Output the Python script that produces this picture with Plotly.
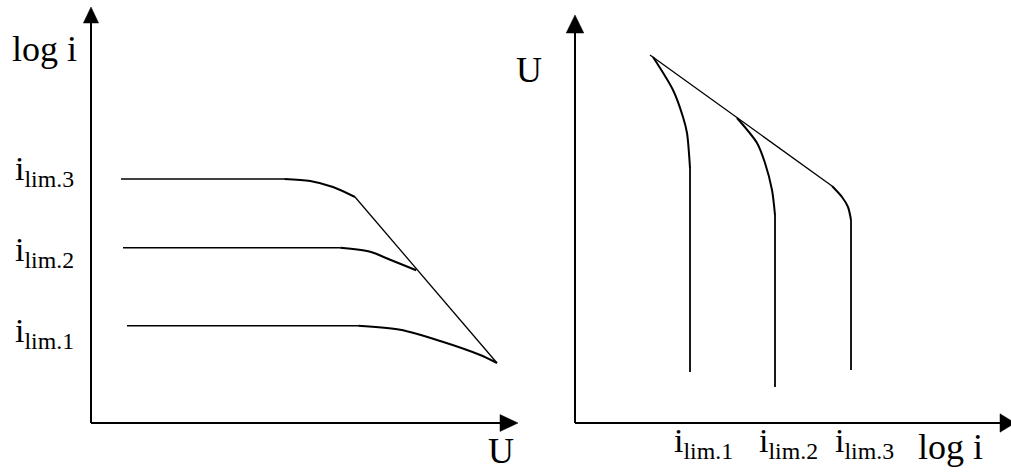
import plotly.graph_objects as go

# Left panel: log i versus U for three limiting currents
left_levels = [2.43, 4.38, 6.10]            # plateau heights (log i_lim.1..3)
left_flat_start = [0.90, 0.80, 0.75]
left_flat_end = [6.68, 6.23, 4.83]
left_bend_x = [[6.68, 7.73, 8.73, 9.73, 10.15],
               [6.23, 6.98, 7.48, 8.13],
               [4.83, 5.48, 6.05, 6.60]]
left_bend_y = [[2.43, 2.33, 2.05, 1.70, 1.50],
               [4.38, 4.28, 4.08, 3.82],
               [6.10, 6.05, 5.90, 5.65]]
left_tafel_x = [6.60, 10.15]
left_tafel_y = [5.65, 1.50]
left_labels = ["i<sub>lim.1</sub>", "i<sub>lim.2</sub>", "i<sub>lim.3</sub>"]
left_label_offset = [-0.175, -0.10, 0.20]   # label nudge from its plateau (axis units)

# Right panel: U versus log i
right_tafel_x = [1.875, 6.425]
right_tafel_y = [9.20, 5.925]
right_bend_x = [[1.95, 2.45, 2.70, 2.80, 2.875],
                [4.05, 4.55, 4.75, 4.925, 5.0],
                [6.425, 6.675, 6.825, 6.9]]
right_bend_y = [[9.15, 8.325, 7.65, 7.25, 6.375],
                [7.625, 7.0, 6.5, 5.825, 5.2],
                [5.925, 5.65, 5.40, 5.075]]
right_limit_x = [2.875, 5.0, 6.9]
right_limit_top = [6.375, 5.2, 5.075]
right_limit_bottom = [1.275, 0.9, 1.325]
right_labels = ["i<sub>lim.1</sub>", "i<sub>lim.2</sub>", "i<sub>lim.3</sub>"]

W, H = 1011, 472
BLACK = "black"
FONT = dict(family="Liberation Serif, Times New Roman, serif", size=36, color=BLACK)
SUBFONT = dict(family="Liberation Serif, Times New Roman, serif", size=34, color=BLACK)

fig = go.Figure()


def line(x, y, axes, width=1.5, shape="linear"):
    xa, ya = axes
    fig.add_trace(go.Scatter(x=x, y=y, mode="lines", xaxis=xa, yaxis=ya,
                             line=dict(color=BLACK, width=width, shape=shape,
                                       smoothing=0.8),
                             hoverinfo="skip", showlegend=False))


def arrowhead(xs, ys, axes):
    xa, ya = axes
    fig.add_trace(go.Scatter(x=xs, y=ys, mode="lines", fill="toself",
                             fillcolor=BLACK, xaxis=xa, yaxis=ya,
                             line=dict(color=BLACK, width=0.5),
                             hoverinfo="skip", showlegend=False))


L = ("x", "y")
R = ("x2", "y2")

# ---- left panel axes
line([0, 0], [0, 10.0], L, width=2)
line([0, 10.23], [0, 0], L, width=2)
arrowhead([-0.19, 0.19, 0, -0.19], [10.0, 10.0, 10.4, 10.0], L)
arrowhead([10.225, 10.225, 10.675, 10.225], [-0.21, 0.21, 0, -0.21], L)

# ---- left panel curves
for lvl, x0, x1, bx, by in zip(left_levels, left_flat_start, left_flat_end,
                               left_bend_x, left_bend_y):
    line([x0, x1], [lvl, lvl], L, width=1.5)
    line(bx, by, L, width=2, shape="spline")
line(left_tafel_x, left_tafel_y, L, width=1.3)

# ---- right panel axes
line([0, 0], [0, 9.75], R, width=2)
line([0, 10.625], [0, 0], R, width=2)
arrowhead([-0.22, 0.22, 0, -0.22], [9.75, 9.75, 10.2, 9.75], R)
arrowhead([10.625, 10.625, 11.0, 10.625], [-0.23, 0.23, 0, -0.23], R)

# ---- right panel curves
line(right_tafel_x, right_tafel_y, R, width=1.3)
for bx, by, lx, top, bot in zip(right_bend_x, right_bend_y, right_limit_x,
                                right_limit_top, right_limit_bottom):
    line(bx, by, R, width=2, shape="spline")
    line([lx, lx], [top, bot], R, width=1.8)

# ---- text
ann = []
ann.append(dict(text="log i", xref="paper", yref="paper", x=10 / W, y=1 - 49 / H,
                xanchor="left", yanchor="middle", showarrow=False, font=FONT))
ann.append(dict(text="U", xref="paper", yref="paper", x=501 / W, y=0,
                xanchor="center", yanchor="bottom", borderpad=0,
                showarrow=False, font=FONT))
ann.append(dict(text="U", xref="paper", yref="paper", x=529 / W, y=1 - 70 / H,
                xanchor="center", yanchor="middle", showarrow=False, font=FONT))
ann.append(dict(text="log i", xref="paper", yref="paper", x=916 / W, y=1 - 447 / H,
                xanchor="left", yanchor="middle", showarrow=False, font=FONT))
for lvl, off, txt in zip(left_levels, left_label_offset, left_labels):
    ann.append(dict(text=txt, xref="paper", yref="y", x=13 / W, y=lvl + off,
                    xanchor="left", yanchor="middle",
                    showarrow=False, font=SUBFONT))
for lx, txt in zip(right_limit_x, right_labels):
    ann.append(dict(text=txt, xref="x2", yref="paper", x=lx, y=1 - 443 / H,
                    xanchor="left", yanchor="middle", xshift=-18,
                    showarrow=False, font=SUBFONT))

hidden = dict(visible=False, showgrid=False, zeroline=False, fixedrange=True)
fig.update_layout(
    width=W, height=H,
    margin=dict(l=0, r=0, t=0, b=0),
    paper_bgcolor="white", plot_bgcolor="white",
    xaxis=dict(domain=[71 / W, 531 / W], range=[-0.5, 11.0], **hidden),
    yaxis=dict(domain=[0, 1], range=[-1.225, 10.575], **hidden),
    xaxis2=dict(domain=[555 / W, 1], range=[-0.5, 10.9], anchor="y2", **hidden),
    yaxis2=dict(domain=[0, 1], range=[-1.225, 10.575], anchor="x2", **hidden),
    annotations=ann,
    showlegend=False,
)

fig.write_html("out.html", config={"displayModeBar": False})
